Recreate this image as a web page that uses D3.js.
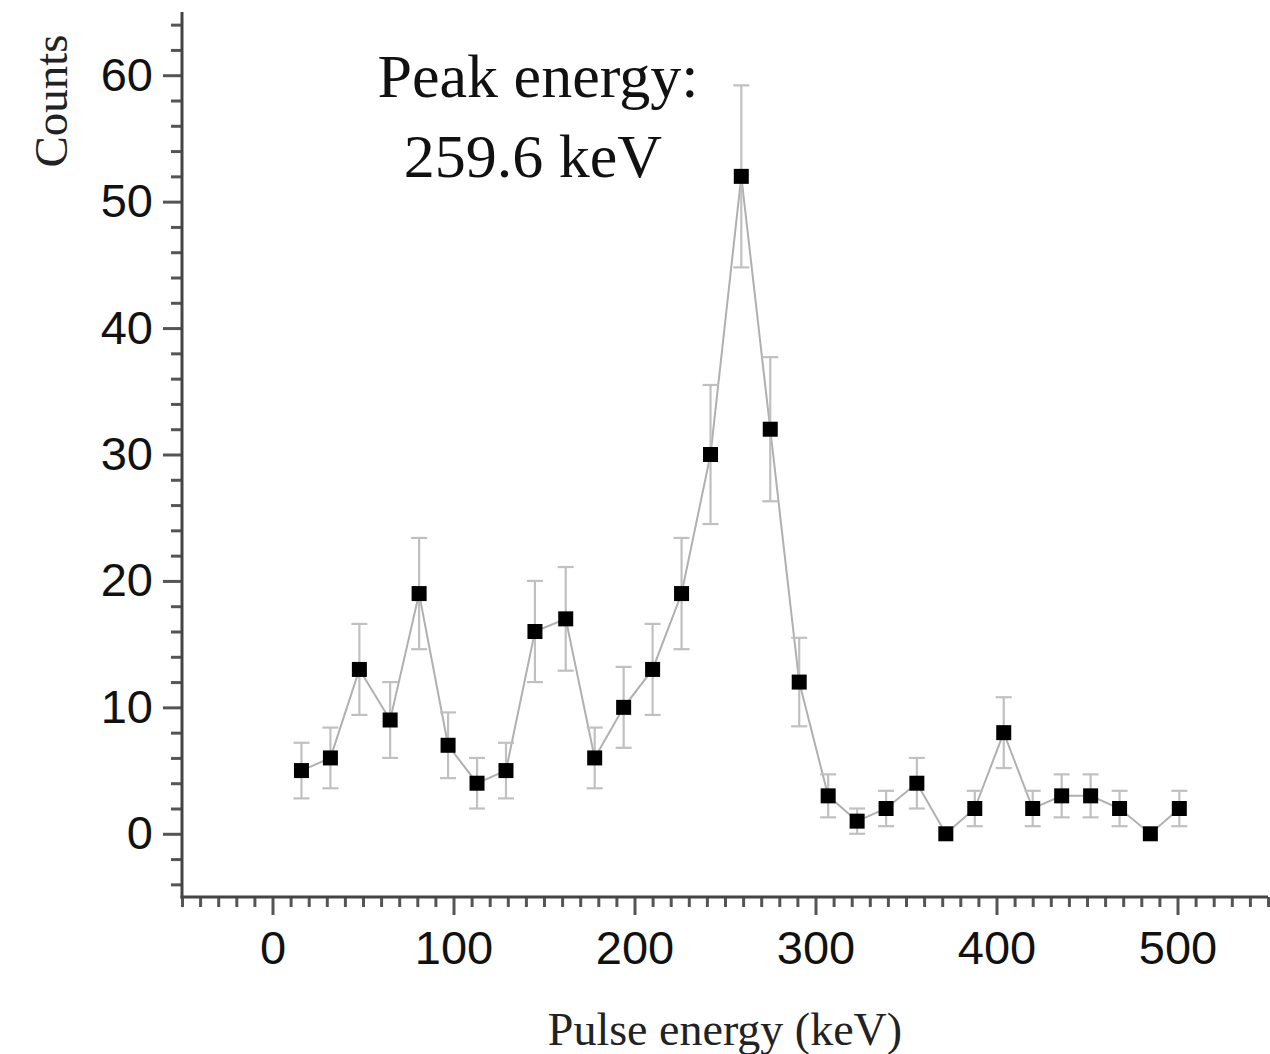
<!DOCTYPE html>
<html>
<head>
<meta charset="utf-8">
<script src="https://cdn.jsdelivr.net/npm/d3@7"></script>
<style>
  html, body { margin: 0; padding: 0; background: #fff; }
  svg { display: block; }
</style>
</head>
<body>
<svg id="chart" width="1270" height="1054"></svg>
<script>
// Data
const energies = [16, 32, 48, 65, 81, 97, 113, 129, 145, 162, 178, 194, 210, 226, 242, 259,
                  275, 291, 307, 323, 339, 356, 372, 388, 404, 420, 436, 452, 468, 485, 501];
const counts   = [5, 6, 13, 9, 19, 7, 4, 5, 16, 17, 6, 10, 13, 19, 30, 52,
                  32, 12, 3, 1, 2, 4, 0, 2, 8, 2, 3, 3, 2, 0, 2];
const errors   = [2.2, 2.4, 3.6, 3.0, 4.4, 2.6, 2.0, 2.2, 4.0, 4.1, 2.4, 3.2, 3.6, 4.4, 5.5, 7.2,
                  5.7, 3.5, 1.7, 1.0, 1.4, 2.0, 0, 1.4, 2.8, 1.4, 1.7, 1.7, 1.4, 0, 1.4];
const xTicks = [0, 100, 200, 300, 400, 500];
const yTicks = [0, 10, 20, 30, 40, 50, 60];
const xLabel = "Pulse energy (keV)";
const yLabel = "Counts";
const annotation = ["Peak energy:", "259.6 keV"];

(function () {
const data = energies.map((e, i) => ({ x: e, y: counts[i], err: errors[i] }));

const svg = d3.select("#chart");
const pLeft = 182, pRight = 1268, pTop = 12, pBottom = 897;

const x = d3.scaleLinear().domain([-50, 550]).range([pLeft, pRight]);
const y = d3.scaleLinear().domain([-5, 65]).range([pBottom, pTop]);

const axisColor = "#444";
const tickFont = "'Liberation Sans', Arial, sans-serif";
const serif = "'Liberation Serif', 'Times New Roman', serif";

// Minor ticks
const xMinor = d3.range(-50, 551, 10).filter(v => v % 100 !== 0);
const yMinor = d3.range(-4, 65, 2).filter(v => v % 10 !== 0);

const gx = svg.append("g").attr("transform", `translate(0,${pBottom})`);
gx.call(d3.axisBottom(x).tickValues(xMinor).tickSize(10).tickFormat(""))
  .call(g => g.select(".domain").remove());
gx.append("g").call(d3.axisBottom(x).tickValues(xTicks).tickSize(18).tickPadding(16))
  .call(g => g.select(".domain").remove());
gx.selectAll("line").attr("stroke", "#555").attr("stroke-width", 3);
gx.selectAll("text").attr("fill", "#111").style("font-family", tickFont).style("font-size", "47px");

const gy = svg.append("g").attr("transform", `translate(${pLeft},0)`);
gy.call(d3.axisLeft(y).tickValues(yMinor).tickSize(11).tickFormat(""))
  .call(g => g.select(".domain").remove());
gy.append("g").call(d3.axisLeft(y).tickValues(yTicks).tickSize(19).tickPadding(10))
  .call(g => g.select(".domain").remove());
gy.selectAll("line").attr("stroke", "#555").attr("stroke-width", 3);
gy.selectAll("text").attr("fill", "#111").style("font-family", tickFont).style("font-size", "47px");

// Axis lines
svg.append("line").attr("x1", pLeft).attr("x2", pLeft).attr("y1", pTop).attr("y2", pBottom + 1.5)
  .attr("stroke", axisColor).attr("stroke-width", 3);
svg.append("line").attr("x1", pLeft - 1.5).attr("x2", pRight).attr("y1", pBottom).attr("y2", pBottom)
  .attr("stroke", axisColor).attr("stroke-width", 3);

// Connecting line
svg.append("path").datum(data)
  .attr("d", d3.line().x(d => x(d.x)).y(d => y(d.y)))
  .attr("fill", "none").attr("stroke", "#b0b0b0").attr("stroke-width", 2);

// Error bars
const eb = svg.append("g").attr("stroke", "#c0c0c0").attr("stroke-width", 2.2);
const capW = 8;
data.filter(d => d.err > 0).forEach(d => {
  eb.append("line").attr("x1", x(d.x)).attr("x2", x(d.x))
    .attr("y1", y(d.y + d.err)).attr("y2", y(d.y - d.err));
  eb.append("line").attr("x1", x(d.x) - capW).attr("x2", x(d.x) + capW)
    .attr("y1", y(d.y + d.err)).attr("y2", y(d.y + d.err));
  eb.append("line").attr("x1", x(d.x) - capW).attr("x2", x(d.x) + capW)
    .attr("y1", y(d.y - d.err)).attr("y2", y(d.y - d.err));
});

// Markers
const ms = 15;
svg.append("g").selectAll("rect").data(data).join("rect")
  .attr("x", d => x(d.x) - ms / 2).attr("y", d => y(d.y) - ms / 2)
  .attr("width", ms).attr("height", ms).attr("fill", "#000");

// Annotation
svg.append("text").attr("x", 538).attr("y", 97).attr("text-anchor", "middle")
  .style("font-family", serif).style("font-size", "62px").attr("fill", "#111")
  .text(annotation[0]);
svg.append("text").attr("x", 533).attr("y", 177).attr("text-anchor", "middle")
  .style("font-family", serif).style("font-size", "62px").attr("fill", "#111")
  .text(annotation[1]);

// Axis labels
svg.append("text").attr("x", 725).attr("y", 1045).attr("text-anchor", "middle")
  .style("font-family", serif).style("font-size", "46px").attr("fill", "#222")
  .text(xLabel);
svg.append("text").attr("transform", "translate(67,101) rotate(-90)").attr("text-anchor", "middle")
  .style("font-family", serif).style("font-size", "47px").attr("fill", "#222")
  .text(yLabel);
})();
</script>
</body>
</html>
